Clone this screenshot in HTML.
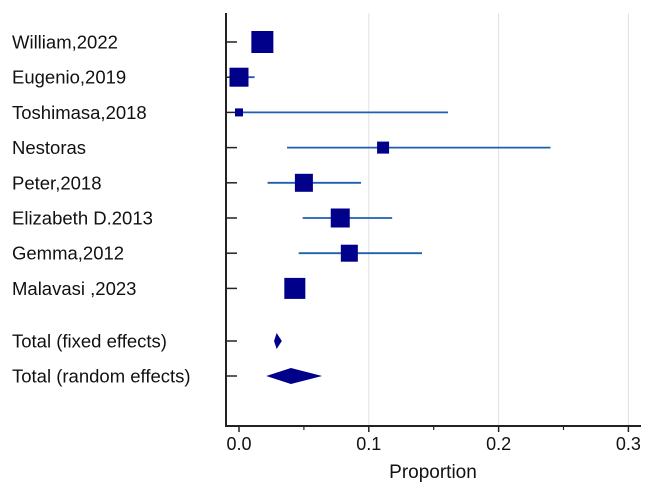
<!DOCTYPE html>
<html><head><meta charset="utf-8"><style>
body{margin:0;background:#fff;}
svg text{font-family:"Liberation Sans",Arial,sans-serif;fill:#111;}
</style></head><body>
<svg id="chart" width="654" height="495" viewBox="0 0 654 495"></svg>
<script>
const studies=["William,2022","Eugenio,2019","Toshimasa,2018","Nestoras","Peter,2018","Elizabeth D.2013","Gemma,2012","Malavasi ,2023"];
const est=[0.018,0.0,0.0,0.111,0.050,0.078,0.085,0.043];
const lo=[0.012,-0.004,0.0,0.037,0.022,0.049,0.046,0.037];
const hi=[0.024,0.012,0.161,0.240,0.094,0.118,0.141,0.049];
const weights=[22,19,8,12,18,19,17,21];
const pooledNames=["Total (fixed effects)","Total (random effects)"];
const pooledEst=[0.029,0.040];
const pooledLo=[0.027,0.021];
const pooledHi=[0.033,0.064];
const ticks=[0,0.1,0.2,0.3];
const tickLabels=["0.0","0.1","0.2","0.3"];
const minorTicks=[0.05,0.15,0.25];

const NS="http://www.w3.org/2000/svg";
const svg=document.getElementById('chart');
const x=v=>239+v*1298;
const rowY=i=>42+i*35.2;
const pY=i=>341+i*35;
function mk(t,a,p){const e=document.createElementNS(NS,t);for(const k in a)e.setAttribute(k,a[k]);(p||svg).appendChild(e);return e;}

ticks.forEach((t,i)=>{if(t>0){const g=mk('line',{x1:x(t),x2:x(t),y1:13,y2:426,stroke:'#e0e0e0','stroke-width':1});

}});
const ya=mk('line',{x1:226,x2:226,y1:13,y2:427,stroke:'#222','stroke-width':2});


const xa=mk('line',{x1:225,x2:641,y1:426,y2:426,stroke:'#222','stroke-width':2});


ticks.forEach((t,i)=>{mk('line',{x1:x(t),x2:x(t),y1:426,y2:432,stroke:'#222','stroke-width':1.5});
const tl=mk('text',{x:x(t),y:450,'text-anchor':'middle','font-size':18});tl.textContent=tickLabels[i];

});
minorTicks.forEach(t=>{mk('line',{x1:x(t),x2:x(t),y1:426,y2:430,stroke:'#222','stroke-width':1.2});});
const xt=mk('text',{x:433,y:478,'text-anchor':'middle','font-size':19});xt.textContent='Proportion';



studies.forEach((s,i)=>{const y=rowY(i);
mk('line',{x1:226,x2:237,y1:y,y2:y,stroke:'#222','stroke-width':1.5});
const l=mk('text',{x:12,y:y+6.5,'font-size':18.5});l.textContent=s;


const ci=mk('line',{x1:x(lo[i]),x2:x(hi[i]),y1:y,y2:y,stroke:'#1f5fb0','stroke-width':1.8});


const w=weights[i];
const b=mk('rect',{x:x(est[i])-w/2,y:y-w/2,width:w,height:w,fill:'#00008b'});

});

pooledNames.forEach((s,i)=>{const y=pY(i);
mk('line',{x1:226,x2:237,y1:y,y2:y,stroke:'#222','stroke-width':1.5});
const l=mk('text',{x:12,y:y+6.5,'font-size':18.5});l.textContent=s;


const d=mk('polygon',{points:`${x(pooledLo[i])},${y} ${x(pooledEst[i])},${y-8} ${x(pooledHi[i])},${y} ${x(pooledEst[i])},${y+8}`,fill:'#00008b'});

});
</script>
</body></html>
